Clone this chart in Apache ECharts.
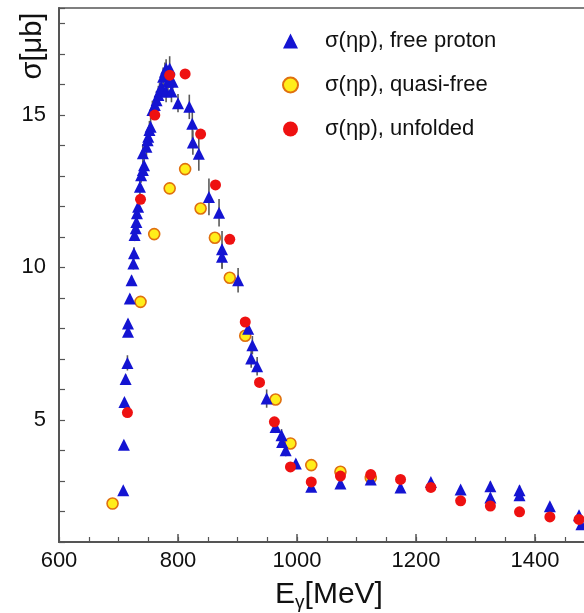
<!DOCTYPE html>
<html><head><meta charset="utf-8">
<script src="https://cdn.jsdelivr.net/npm/echarts@6/dist/echarts.min.js"></script>
<style>html,body{margin:0;padding:0;background:#fff}#c{width:584px;height:613px}</style>
</head><body><div id="c"></div>
<script>
const legendNames = ['σ(ηp), free proton', 'σ(ηp), quasi-free', 'σ(ηp), unfolded'];
const xTickValues = [600, 800, 1000, 1200, 1400];
const yTickValues = [5, 10, 15];

// free proton (blue triangles): energy, cross section, error
const freeE = [708,709,710,712,715,716,716,719,722,725,726,727,729,730,731,733,736,738,741,743,741,747,749,750,752,754,757,761,764,767,769,772,775,778,780,786,783,780,789,791,800,819,824,825,835,852,869,874,874,901,918,923,925,933,949,964,974,975,981,998,1024,1073,1124,1174,1225,1275,1325,1325,1374,1374,1425,1474,1478];
const freeSigma = [2.70,4.19,5.59,6.34,6.87,7.89,8.16,8.98,9.58,10.13,10.46,11.06,11.28,11.49,11.77,11.99,12.64,13.02,13.19,13.35,13.74,13.95,14.17,14.28,14.50,14.61,15.16,15.32,15.48,15.65,15.76,15.92,16.25,16.41,16.52,16.52,16.08,15.76,15.76,16.08,15.38,15.26,14.71,14.09,13.72,12.31,11.79,10.59,10.35,9.58,7.99,7.01,7.45,6.76,5.70,4.77,4.50,4.28,4.01,3.57,2.81,2.92,3.05,2.79,2.97,2.72,2.83,2.46,2.70,2.53,2.17,1.88,1.58];
const freeErr = [0.10,0.12,0.12,0.15,0.25,0.15,0.15,0.15,0.15,0.20,0.20,0.20,0.20,0.20,0.20,0.25,0.25,0.25,0.30,0.30,0.30,0.30,0.30,0.30,0.30,0.30,0.30,0.30,0.30,0.30,0.30,0.30,0.30,0.30,0.30,0.40,0.35,0.35,0.35,0.35,0.30,0.40,0.50,0.40,0.55,0.60,0.45,0.60,0.40,0.40,0.35,0.30,0.30,0.30,0.30,0.20,0.20,0.20,0.20,0.15,0.10,0.10,0.10,0.10,0.10,0.10,0.15,0.15,0.15,0.15,0.10,0.10,0.10];

// quasi-free (yellow circles)
const quasiE = [690,737,760,786,812,838,862,887,913,964,989,1024,1073,1124];
const quasiSigma = [2.26,8.87,11.09,12.59,13.22,11.93,10.97,9.66,7.76,5.67,4.23,3.52,3.30,3.10];

// unfolded (red circles)
const unfoldE = [715,737,761,786,812,838,863,887,913,937,962,989,1024,1073,1124,1174,1225,1275,1325,1374,1425,1474];
const unfoldSigma = [5.24,12.23,14.99,16.30,16.34,14.37,12.70,10.92,8.21,6.23,4.94,3.46,2.97,3.16,3.21,3.05,2.79,2.35,2.18,1.99,1.82,1.74];

const FONT = '"Liberation Sans", Arial, Helvetica, sans-serif';
const AX = '#555';

const zip = (a, b) => a.map((v, i) => [v, b[i]]);
const errData = freeE.map((v, i) => [v, freeSigma[i], freeErr[i]]);

const chart = echarts.init(document.getElementById('c'));
chart.setOption({
  animation: false,
  backgroundColor: '#fff',
  grid: { left: 59, right: -70, top: 8, bottom: 71, show: true, borderColor: AX, borderWidth: 1.5, backgroundColor: 'transparent', containLabel: false, outerBoundsMode: 'none' },
  xAxis: [{
    type: 'value', min: 600, max: 1600, interval: 200, position: 'bottom',
    axisLine: { show: true, lineStyle: { color: AX, width: 2 } },
    axisTick: { show: true, inside: true, length: 8, lineStyle: { color: AX, width: 1.5 } },
    axisLabel: { show: true, margin: 8, fontSize: 22, fontFamily: FONT, color: '#111',
      formatter: v => xTickValues.includes(v) ? String(v) : '' },
    splitLine: { show: false }
  }, {
    type: 'value', min: 600, max: 1600, interval: 50, position: 'bottom', gridIndex: 0,
    axisLine: { show: false },
    axisTick: { show: true, inside: true, length: 5, lineStyle: { color: AX, width: 1.2 } },
    axisLabel: { show: false },
    splitLine: { show: false }
  }],
  yAxis: [{
    type: 'value', min: 1, max: 18.5, interval: 1,
    axisLine: { show: true, lineStyle: { color: AX, width: 2 } },
    axisTick: { show: true, inside: true, length: 6, lineStyle: { color: AX, width: 1.2 } },
    axisLabel: { show: true, margin: 13, fontSize: 22, fontFamily: FONT, color: '#111',
      formatter: v => yTickValues.includes(v) ? String(v) : '' },
    splitLine: { show: false }
  }],
  legend: {
    orient: 'vertical', left: 282, top: 30, padding: 0,
    itemWidth: 15, itemHeight: 15, itemGap: 22, selectedMode: false,
    textStyle: { fontSize: 22, fontFamily: FONT, color: '#111', padding: [0, 0, 0, 22] },
    data: [
      { name: legendNames[0], icon: 'triangle' },
      { name: legendNames[1], icon: 'circle' },
      { name: legendNames[2], icon: 'circle' }
    ]
  },
  graphic: [
    { type: 'text', x: 33, y: 46, rotation: Math.PI / 2,
      style: { text: 'σ[μb]', fontSize: 29, fontFamily: FONT, fill: '#111', align: 'center', verticalAlign: 'middle' } },
    { type: 'text', x: 329, y: 595,
      style: { text: '{a|E}{s|γ}{a|[MeV]}', fontSize: 30, fontFamily: FONT, fill: '#111', align: 'center', verticalAlign: 'middle',
        rich: {
          a: { fontSize: 30, fontFamily: FONT, fill: '#111' },
          s: { fontSize: 19, fontFamily: FONT, fill: '#111', padding: [15, 0, 0, 0] }
        } } }
  ],
  series: [
    {
      type: 'custom', name: 'err', xAxisIndex: 0, yAxisIndex: 0, z: 1,
      data: errData, encode: { x: 0, y: 1 },
      renderItem: (params, api) => {
        const x = api.value(0), y = api.value(1), e = api.value(2);
        const p1 = api.coord([x, y - e]), p2 = api.coord([x, y + e]);
        return { type: 'line', shape: { x1: p1[0], y1: p1[1], x2: p2[0], y2: p2[1] }, style: { stroke: '#5a5a5a', lineWidth: 1.6 } };
      }
    },
    {
      type: 'scatter', name: legendNames[1], z: 2, symbol: 'circle', symbolSize: 11,
      itemStyle: { color: '#ffee1a', borderColor: '#e0700f', borderWidth: 1.6, opacity: 1 },
      data: zip(quasiE, quasiSigma)
    },
    {
      type: 'scatter', name: legendNames[0], z: 3, symbol: 'triangle', symbolSize: 12,
      itemStyle: { color: '#1414d2', opacity: 1 },
      data: zip(freeE, freeSigma)
    },
    {
      type: 'scatter', name: legendNames[2], z: 4, symbol: 'circle', symbolSize: 11,
      itemStyle: { color: '#ee1111', opacity: 1 },
      data: zip(unfoldE, unfoldSigma)
    }
  ]
});
</script>
</body></html>
